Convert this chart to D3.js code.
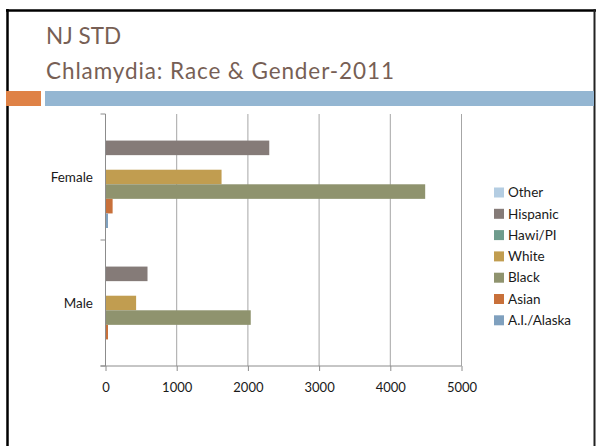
<!DOCTYPE html>
<html>
<head>
<meta charset="utf-8">
<script src="https://cdn.jsdelivr.net/npm/d3@7"></script>
<style>
  body { margin: 0; background: #fff; }
  svg { display: block; }
</style>
</head>
<body>
<div id="chart"></div>
<script>
(function () {

// chart data
var genders = ["Female", "Male"];
var races = ["Other", "Hispanic", "Hawi/PI", "White", "Black", "Asian", "A.I./Alaska"];
var female = [0, 2300, 0, 1630, 4490, 100, 35];
var male = [0, 590, 0, 430, 2040, 35, 0];
var xTicks = [0, 1000, 2000, 3000, 4000, 5000];

var raceColors = ["#b4cde2", "#857b78", "#6f9c8d", "#c19d50", "#8f936e", "#c8703a", "#7fa0be"];

var W = 596, H = 446;

var margin = {
  top: 114,
  left: 105.5,
  right: 134.5,
  bottom: 80
};
var width = W - margin.left - margin.right;
var height = H - margin.top - margin.bottom;

var svg = d3.select("#chart")
  .append("svg")
  .attr("width", W)
  .attr("height", H);

svg.append("rect")
  .attr("width", W)
  .attr("height", H)
  .attr("fill", "#fff");

// slide frame
svg.append("line")
  .attr("x1", 6).attr("x2", 596)
  .attr("y1", 10.5).attr("y2", 10.5)
  .attr("stroke", "#000").attr("stroke-width", 2.5);
svg.append("line")
  .attr("x1", 7.5).attr("x2", 7.5)
  .attr("y1", 9).attr("y2", H)
  .attr("stroke", "#000").attr("stroke-width", 2.5);
svg.append("line")
  .attr("x1", 594.5).attr("x2", 594.5)
  .attr("y1", 9).attr("y2", H)
  .attr("stroke", "#222").attr("stroke-width", 2);

// title
var title = svg.append("g")
  .style("font-family", "Lato, sans-serif")
  .style("font-size", "22.5px")
  .attr("fill", "#775f55");
title.append("text").attr("x", 46).attr("y", 44).text("NJ STD");
title.append("text").attr("x", 46).attr("y", 79)
  .style("letter-spacing", "0.9px")
  .text("Chlamydia: Race & Gender-2011");

// accent bars under the title
svg.append("rect")
  .attr("x", 6).attr("y", 91)
  .attr("width", 35).attr("height", 15)
  .attr("fill", "#df8246");
svg.append("rect")
  .attr("x", 45).attr("y", 91)
  .attr("width", W - 45 - 2).attr("height", 15)
  .attr("fill", "#94b6d2");

var g = svg.append("g")
  .attr("transform", "translate(" + margin.left + "," + margin.top + ")");

var x = d3.scaleLinear().domain([0, 5000]).range([0, width]);
var y0 = d3.scaleBand().domain(genders).range([0, height]);
var y1 = d3.scaleBand().domain(races).range([12, y0.bandwidth() - 12]);

// gridlines
g.append("g")
  .selectAll("line")
  .data(xTicks.slice(1))
  .enter().append("line")
  .attr("x1", function (d) { return x(d); })
  .attr("x2", function (d) { return x(d); })
  .attr("y1", 0)
  .attr("y2", height)
  .attr("stroke", "#a6a6a6")
  .attr("stroke-width", 1);

// bars
var rows = genders.map(function (gname, i) {
  var vals = i === 0 ? female : male;
  return { gender: gname, values: races.map(function (r, j) { return { race: r, value: vals[j], color: raceColors[j] }; }) };
});

g.selectAll(".gender")
  .data(rows)
  .enter().append("g")
  .attr("class", "gender")
  .attr("transform", function (d) { return "translate(0," + y0(d.gender) + ")"; })
  .selectAll("rect")
  .data(function (d) { return d.values.filter(function (v) { return v.value > 0; }); })
  .enter().append("rect")
  .attr("x", x(0))
  .attr("y", function (d) { return y1(d.race); })
  .attr("width", function (d) { return x(d.value) - x(0); })
  .attr("height", y1.bandwidth())
  .attr("fill", function (d) { return d.color; });

// x axis
var xAxis = g.append("g")
  .attr("transform", "translate(0," + height + ")")
  .call(d3.axisBottom(x).tickValues(xTicks).tickSize(5).tickPadding(12).tickFormat(d3.format("d")));
xAxis.select(".domain").attr("stroke", "#8c8c8c").attr("d", "M-5,0H" + width);
xAxis.selectAll(".tick line").attr("stroke", "#8c8c8c");
xAxis.selectAll("text")
  .style("font-family", "Lato, sans-serif")
  .style("font-size", "13px")
  .attr("fill", "#1a1a1a");

// y axis
var yAxis = g.append("g");
yAxis.append("line")
  .attr("x1", 0).attr("x2", 0)
  .attr("y1", 0).attr("y2", height)
  .attr("stroke", "#8c8c8c");
yAxis.selectAll(".ytick")
  .data([0].concat(genders.map(function (d) { return y0(d) + y0.bandwidth(); })))
  .enter().append("line")
  .attr("x1", -5).attr("x2", 0)
  .attr("y1", function (d) { return d; })
  .attr("y2", function (d) { return d; })
  .attr("stroke", "#8c8c8c");
yAxis.selectAll(".ylabel")
  .data(genders)
  .enter().append("text")
  .attr("x", -12.5)
  .attr("y", function (d) { return y0(d) + y0.bandwidth() / 2; })
  .attr("dy", "0.35em")
  .attr("text-anchor", "end")
  .style("font-family", "Lato, sans-serif")
  .style("font-size", "13.5px")
  .attr("fill", "#1a1a1a")
  .text(function (d) { return d; });

// legend
var legend = svg.append("g")
  .attr("transform", "translate(494,192.5)");
var item = legend.selectAll("g")
  .data(races)
  .enter().append("g")
  .attr("transform", function (d, i) { return "translate(0," + (i * 21.3) + ")"; });
item.append("rect")
  .attr("x", 0).attr("y", -5)
  .attr("width", 10).attr("height", 10)
  .attr("fill", function (d, i) { return raceColors[i]; });
item.append("text")
  .attr("x", 14)
  .attr("dy", "0.35em")
  .style("font-family", "Lato, sans-serif")
  .style("font-size", "13.5px")
  .attr("fill", "#1a1a1a")
  .text(function (d) { return d; });

})();
</script>
</body>
</html>
